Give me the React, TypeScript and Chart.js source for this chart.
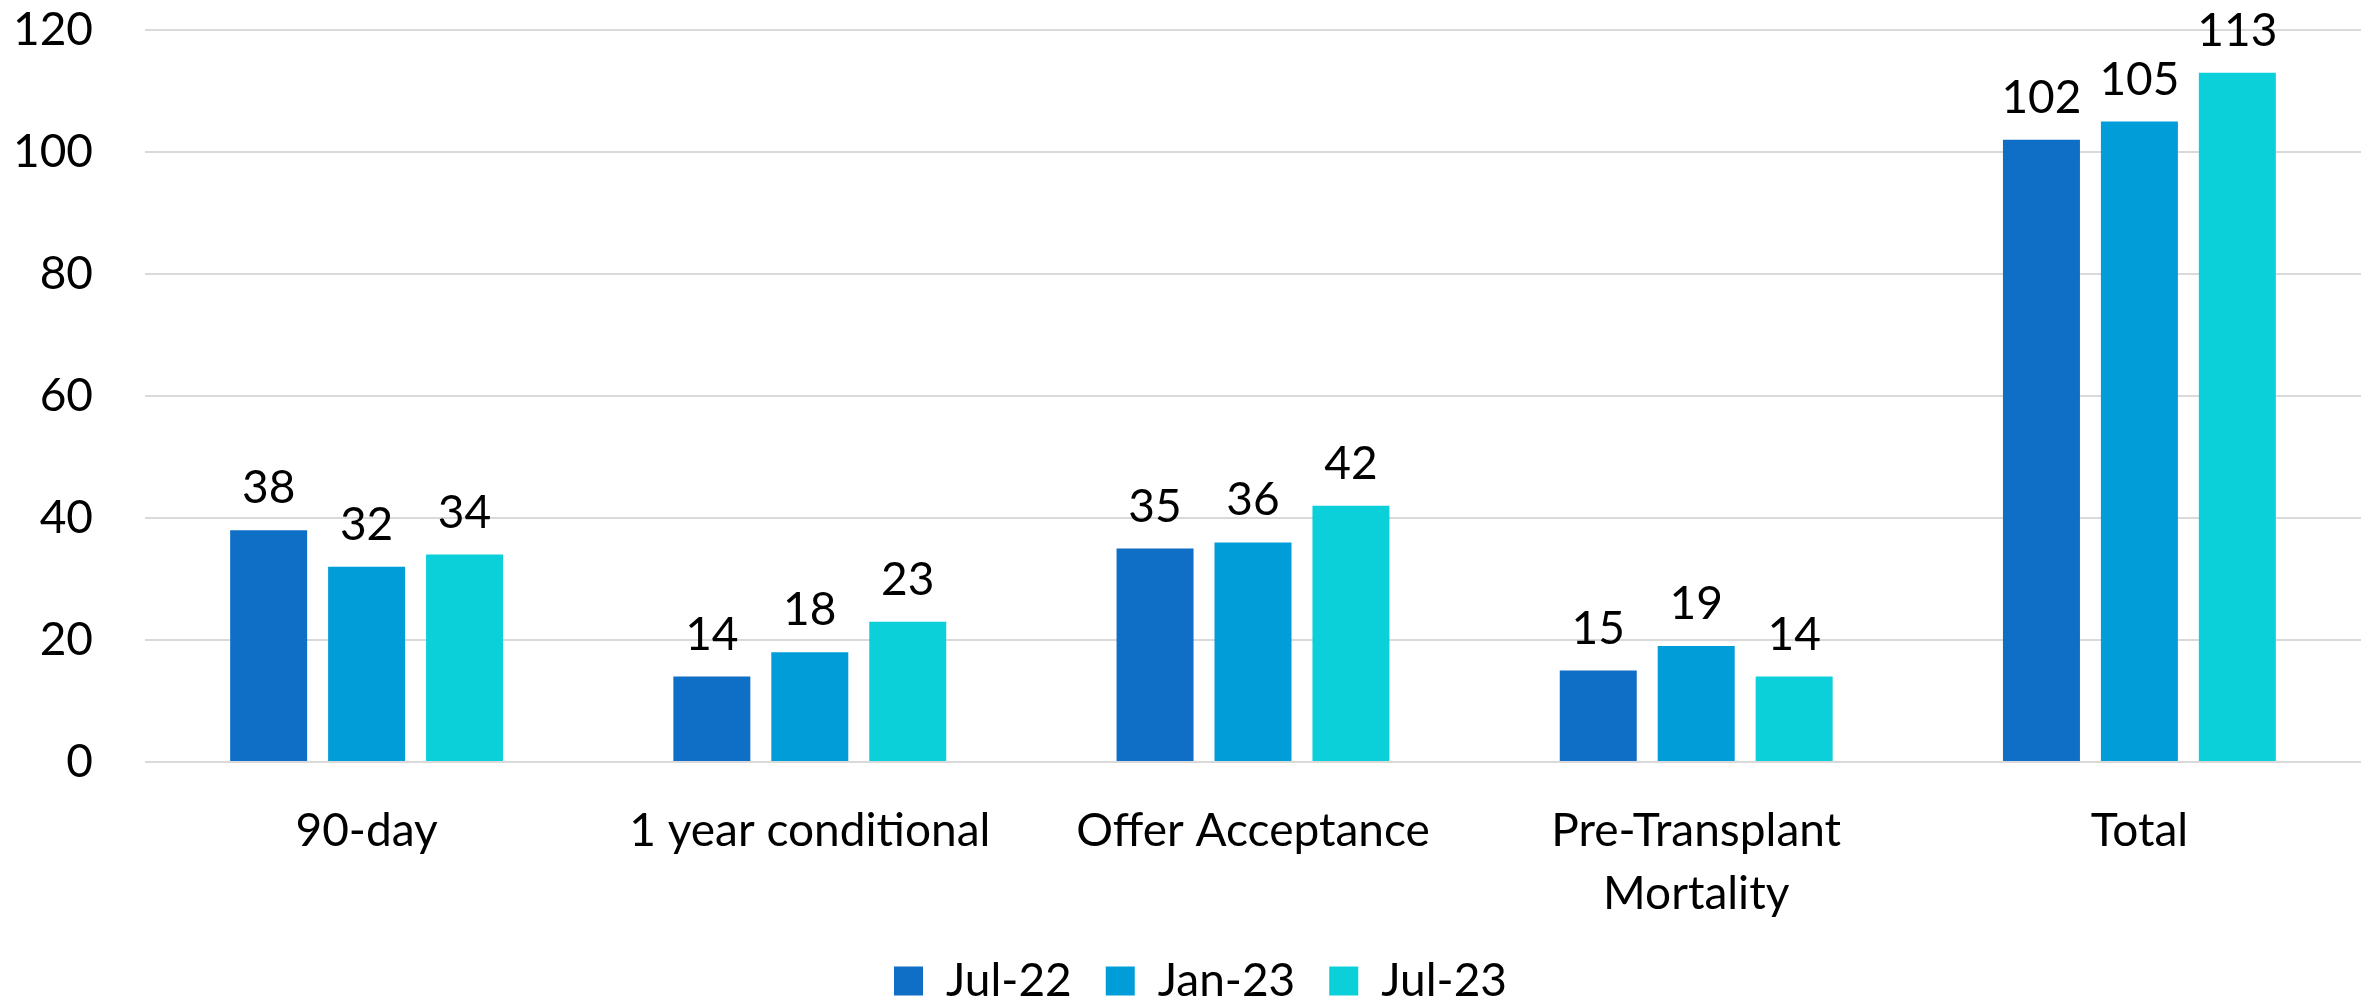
import React, { useEffect, useRef } from "react";
import { Chart, registerables } from "chart.js";

Chart.register(...registerables);

// ---- Data ----
const categories: (string | string[])[] = [
  "90-day",
  "1 year conditional",
  "Offer Acceptance",
  ["Pre-Transplant", "Mortality"],
  "Total",
];
const seriesNames = ["Jul-22", "Jan-23", "Jul-23"];
const jul22 = [38, 14, 35, 15, 102];
const jan23 = [32, 18, 36, 19, 105];
const jul23 = [34, 23, 42, 14, 113];
const seriesColors = ["#0F6FC6", "#009DD9", "#0BD0D9"];
const yMin = 0;
const yMax = 120;
const yStep = 20;

const FONT_FAMILY = "Lato, 'Open Sans', sans-serif";
const FONT_SIZE = 46;

const dataLabelPlugin = {
  id: "barValueLabels",
  afterDatasetsDraw(chart: any) {
    const ctx = chart.ctx;
    ctx.save();
    ctx.font = `${FONT_SIZE}px ${FONT_FAMILY}`;
    ctx.fillStyle = "#000000";
    ctx.textAlign = "center";
    ctx.textBaseline = "alphabetic";
    chart.data.datasets.forEach((ds: any, i: number) => {
      const meta = chart.getDatasetMeta(i);
      meta.data.forEach((bar: any, j: number) => {
        ctx.fillText(String(ds.data[j]), bar.x, bar.y - 27);
      });
    });
    ctx.restore();
  },
};

export default function App() {
  const canvasRef = useRef<HTMLCanvasElement | null>(null);

  useEffect(() => {
    document.body.style.margin = "0";
    const canvas = canvasRef.current;
    if (!canvas) return;
    const seriesData = [jul22, jan23, jul23];
    const font = { family: FONT_FAMILY, size: FONT_SIZE, lineHeight: 63 / 46 };
    const chart = new Chart(canvas, {
      type: "bar",
      data: {
        labels: categories as any,
        datasets: seriesNames.map((name, i) => ({
          label: name,
          data: seriesData[i],
          backgroundColor: seriesColors[i],
          borderWidth: 0,
          categoryPercentage: 0.663,
          barPercentage: 0.786,
        })),
      },
      options: {
        animation: false,
        responsive: false,
        devicePixelRatio: 1,
        layout: { padding: { left: 40, right: 13, top: 30, bottom: -13 } },
        plugins: {
          legend: {
            position: "bottom",
            labels: {
              boxWidth: 29,
              boxHeight: 29,
              padding: 34,
              color: "#000000",
              font: { family: FONT_FAMILY, size: FONT_SIZE },
            },
          },
          tooltip: { enabled: false },
        },
        scales: {
          x: {
            grid: { display: false },
            border: { display: false },
            ticks: {
              color: "#000000",
              font,
              padding: 30,
              maxRotation: 0,
              autoSkip: false,
            },
            afterFit: (scale: any) => {
              scale.height = 162;
            },
          },
          y: {
            min: yMin,
            max: yMax,
            grid: { color: "#D9D9D9", lineWidth: 2, drawTicks: false },
            border: { display: false },
            ticks: {
              stepSize: yStep,
              color: "#000000",
              font: { family: FONT_FAMILY, size: FONT_SIZE },
              padding: 52,
            },
            afterFit: (scale: any) => {
              scale.width = 105;
              scale.paddingTop = 0;
              scale.paddingBottom = 0;
              // let tick labels extend left of the scale box without being clipped
              scale._computeLabelArea = () => undefined;
            },
          },
        },
      },
      plugins: [dataLabelPlugin],
    });
    return () => chart.destroy();
  }, []);

  return (
    <div style={{ width: 2374, height: 1001, background: "#ffffff" }}>
      <canvas ref={canvasRef} width={2374} height={1001} style={{ display: "block" }} />
    </div>
  );
}
